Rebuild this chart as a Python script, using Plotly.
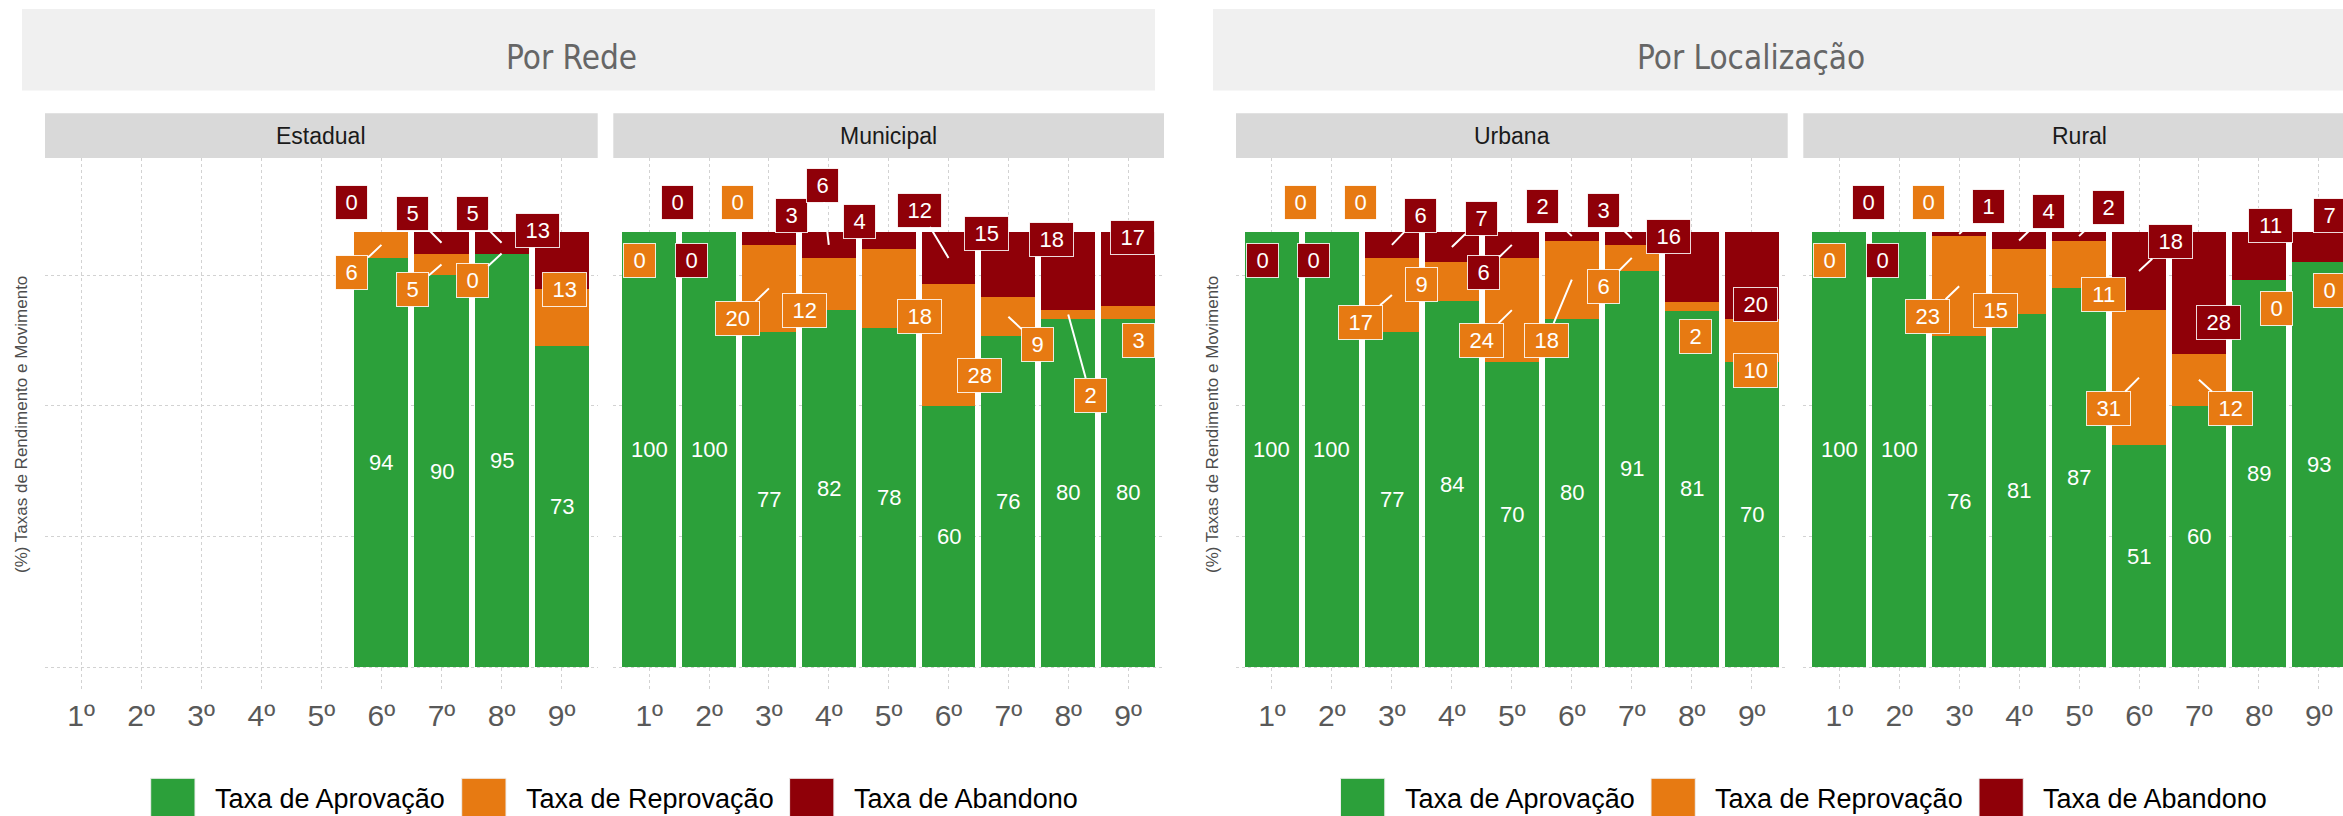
import plotly.graph_objects as go

W, H = 2343, 816

# ---------------- data ----------------
grades = ["1º", "2º", "3º", "4º", "5º", "6º", "7º", "8º", "9º"]
series_names = ["Taxa de Aprovação", "Taxa de Reprovação", "Taxa de Abandono"]

estadual_aprov = [None, None, None, None, None, 94, 90, 95, 73]
estadual_reprov = [None, None, None, None, None, 6, 5, 0, 13]
estadual_aband = [None, None, None, None, None, 0, 5, 5, 13]

municipal_aprov = [100, 100, 77, 82, 78, 60, 76, 80, 80]
municipal_reprov = [0, 0, 20, 12, 18, 28, 9, 2, 3]
municipal_aband = [0, 0, 3, 6, 4, 12, 15, 18, 17]

urbana_aprov = [100, 100, 77, 84, 70, 80, 91, 81, 70]
urbana_reprov = [0, 0, 17, 9, 24, 18, 6, 2, 10]
urbana_aband = [0, 0, 6, 7, 6, 2, 3, 16, 20]

rural_aprov = [100, 100, 76, 81, 87, 51, 60, 89, 93]
rural_reprov = [0, 0, 23, 15, 11, 31, 12, 0, 0]
rural_aband = [0, 0, 1, 4, 2, 18, 28, 11, 7]

panel_names = ["Estadual", "Municipal", "Urbana", "Rural"]
group_titles = ["Por Rede", "Por Localização"]
y_title = "(%) Taxas de Rendimento e Movimento"

# ---------------- label repel offsets (dx, dy, draw segment) ----------------
E_reprov_nudge = [None] * 5 + [(-0.49, -6.4, 1), (-0.48, -5.7, 1), (-0.49, -6.3, 1), (0.04, 6.5, 0)]
E_aband_nudge = [None] * 5 + [(-0.49, 6.7, 0), (-0.48, 6.7, 1), (-0.49, 6.7, 1), (-0.40, 6.8, 0)]
M_reprov_nudge = [(-0.17, -6.7, 0), (0.48, 6.7, 0), (-0.52, -6.9, 1), (-0.41, -6.1, 0), (0.52, -6.5, 0),
                  (0.52, -7.0, 0), (0.49, -6.3, 1), (0.37, -18.5, 1), (0.18, -6.5, 0)]
M_aband_nudge = [(0.48, 6.7, 0), (-0.30, -6.7, 0), (0.38, 5.3, 0), (-0.11, 13.7, 1), (-0.48, 4.3, 0),
                 (-0.48, 11.0, 1), (-0.37, 7.0, 0), (-0.28, 7.3, 0), (0.07, 7.2, 0)]
U_reprov_nudge = [(0.47, 6.7, 0), (0.47, 6.7, 0), (-0.52, -6.3, 1), (-0.50, -0.7, 0), (-0.51, -6.9, 1),
                  (-0.42, -13.9, 1), (-0.48, -6.6, 1), (0.07, -6.9, 0), (0.06, -6.8, 0)]
U_aband_nudge = [(-0.16, -6.7, 0), (-0.30, -6.7, 0), (0.47, 6.8, 1), (0.49, 6.6, 1), (-0.48, -6.4, 1),
                 (-0.49, 6.7, 1), (-0.48, 6.5, 1), (-0.38, 7.0, 0), (0.06, -6.7, 0)]
R_reprov_nudge = [(-0.16, -6.7, 0), (0.49, 6.7, 0), (-0.52, -6.9, 1), (-0.39, -6.6, 0), (0.40, -7.0, 0),
                  (-0.51, -7.1, 1), (0.53, -6.6, 1), (0.30, -6.6, 0), (0.18, -6.4, 0)]
R_aband_nudge = [(0.48, 6.7, 0), (-0.28, -6.7, 0), (0.49, 6.4, 1), (0.49, 6.6, 1), (0.49, 6.5, 1),
                 (0.53, 6.7, 1), (0.32, -6.8, 0), (0.19, 7.0, 0), (0.18, 7.3, 0)]

# ---------------- styles ----------------
GREEN, ORANGE, RED = "#2ca03a", "#e77a12", "#8f0008"
FONT = "Liberation Sans, Arial, Helvetica, sans-serif"
NARROW = "Liberation Sans Narrow, Arial Narrow, DejaVu Sans Condensed, sans-serif"
GRID = "#d2d2d2"

# panel pixel geometry
panel_px = [(45, 597.7), (613.3, 1164), (1236, 1787.7), (1803.3, 2354.8)]
PANEL_TOP, PANEL_BOT = 158, 690
Y0_PX, PX_PER_UNIT = 667, 4.352
y_top = (Y0_PX - PANEL_TOP) / PX_PER_UNIT
y_bot = (Y0_PX - PANEL_BOT) / PX_PER_UNIT


def px(xp):
    return xp / W


def py(yp):
    return 1 - yp / H


panels = [
    (estadual_aprov, estadual_reprov, estadual_aband, E_reprov_nudge, E_aband_nudge),
    (municipal_aprov, municipal_reprov, municipal_aband, M_reprov_nudge, M_aband_nudge),
    (urbana_aprov, urbana_reprov, urbana_aband, U_reprov_nudge, U_aband_nudge),
    (rural_aprov, rural_reprov, rural_aband, R_reprov_nudge, R_aband_nudge),
]

fig = go.Figure()
annotations = []
shapes = []
layout_axes = {}

LABEL_SIZE = 22
DIGIT_W = 0.556 * LABEL_SIZE


def box_label(text, color, xa, ya, px_, py_, lx, ly, arrow):
    n = len(text)
    common = dict(text=text, xref=xa, yref=ya, font=dict(family=FONT, size=LABEL_SIZE, color="white"),
                  bgcolor=color, bordercolor="rgba(255,255,255,0.85)", borderwidth=1, borderpad=0,
                  width=DIGIT_W * n + 19, height=33, align="center", valign="middle",
                  xanchor="center", yanchor="middle")
    if arrow:
        return dict(x=px_, y=py_, ax=lx, ay=ly, axref=xa, ayref=ya, showarrow=True,
                    arrowhead=0, arrowwidth=2, arrowcolor="white", standoff=0, startstandoff=0, **common)
    return dict(x=lx, y=ly, showarrow=False, **common)


def paper_text(x, y, text, font, **kw):
    d = dict(x=px(x), y=py(y), xref="paper", yref="paper", text=text, showarrow=False,
             xanchor="center", yanchor="middle", font=font)
    d.update(kw)
    return d


for k, (ap, rp, ab, rn, bn) in enumerate(panels):
    sfx = "" if k == 0 else str(k + 1)
    xa, ya = "x" + sfx, "y" + sfx
    left, right = panel_px[k]
    right_clip = min(right, W)
    xmax = 0.4 + 9.2 * (right_clip - left) / (right - left)

    xs, a_s, r_s, b_s = [], [], [], []
    for i in range(9):
        if ap[i] is None:
            continue
        tot = ap[i] + rp[i] + ab[i]
        xs.append(i + 1)
        a_s.append(ap[i] / tot * 100)
        r_s.append(rp[i] / tot * 100)
        b_s.append(ab[i] / tot * 100)
    for vals, col, name in zip([a_s, r_s, b_s], [GREEN, ORANGE, RED], series_names):
        fig.add_trace(go.Bar(x=xs, y=vals, width=0.9, marker=dict(color=col, line=dict(width=0)),
                             name=name, xaxis=xa, yaxis=ya, showlegend=False, hoverinfo="skip"))

    j = 0
    for i in range(9):
        if ap[i] is None:
            continue
        xc = i + 1
        a, r, b = a_s[j], r_s[j], b_s[j]
        j += 1
        annotations.append(dict(x=xc, y=a / 2, xref=xa, yref=ya, text=str(ap[i]), showarrow=False,
                                xanchor="center", yanchor="middle",
                                font=dict(family=FONT, size=LABEL_SIZE, color="white")))
        dx, dy, arw = rn[i]
        mid = a + r / 2
        annotations.append(box_label(str(rp[i]), ORANGE, xa, ya, xc, mid, xc + dx, mid + dy, arw))
        dx, dy, arw = bn[i]
        mid = a + r + b / 2
        annotations.append(box_label(str(ab[i]), RED, xa, ya, xc, mid, xc + dx, mid + dy, arw))

    layout_axes["xaxis" + sfx] = dict(
        domain=[px(left), px(right_clip)], range=[0.4, xmax], anchor=ya,
        tickmode="array", tickvals=list(range(1, 10)), ticktext=grades,
        tickfont=dict(family=FONT, size=30, color="#595959"), ticks="", ticklabelstandoff=5,
        showgrid=True, gridcolor=GRID, griddash="dot", gridwidth=1,
        zeroline=False, showline=False, fixedrange=True)
    layout_axes["yaxis" + sfx] = dict(
        domain=[py(PANEL_BOT), py(PANEL_TOP)], range=[y_bot, y_top], anchor=xa,
        tickmode="array", tickvals=[0, 30, 60, 90], showticklabels=False, ticks="",
        showgrid=True, gridcolor=GRID, griddash="dot", gridwidth=1,
        zeroline=False, showline=False, fixedrange=True)

    # facet strip
    shapes.append(dict(type="rect", xref="paper", yref="paper", x0=px(left), x1=px(right_clip),
                       y0=py(158), y1=py(113.3), fillcolor="#d9d9d9", line=dict(width=0), layer="below"))
    annotations.append(paper_text((left + right) / 2, 136, panel_names[k],
                                  dict(family=FONT, size=23, color="#1a1a1a")))

# group title strips
for (x0, x1, tx), title in zip([(22, 1155, 571.7), (1213, 2346, 1751)], group_titles):
    shapes.append(dict(type="rect", xref="paper", yref="paper", x0=px(x0), x1=min(px(x1), 1.0),
                       y0=py(90.5), y1=py(9), fillcolor="#f0f0f0", line=dict(width=0), layer="below"))
    annotations.append(paper_text(tx, 57.5, title, dict(family=NARROW, size=33, color="#666666")))

# y-axis titles
for xt in [21, 1212]:
    annotations.append(paper_text(xt, 425, y_title, dict(family=FONT, size=17, color="#4d4d4d"),
                                  textangle=-90))

# legends (one per group)
for key_lefts in [(150.7, 461.7, 789.6), (1340.5, 1651, 1979)]:
    for kl, col, name in zip(key_lefts, [GREEN, ORANGE, RED], series_names):
        shapes.append(dict(type="rect", xref="paper", yref="paper", x0=px(kl), x1=px(kl + 44.3),
                           y0=py(822), y1=py(778.3), fillcolor=col, line=dict(width=1, color="#eeeeee")))
        annotations.append(paper_text(kl + 62, 799, name, dict(family=FONT, size=27, color="black"),
                                      xanchor="left"))

fig.update_layout(
    width=W, height=H, margin=dict(l=0, r=0, t=0, b=0),
    paper_bgcolor="white", plot_bgcolor="white",
    barmode="stack", bargap=0, showlegend=False,
    annotations=annotations, shapes=shapes, **layout_axes)

fig.write_html("out.html", config={"displayModeBar": False, "staticPlot": True},
               post_script="document.body.style.margin='0px';")
